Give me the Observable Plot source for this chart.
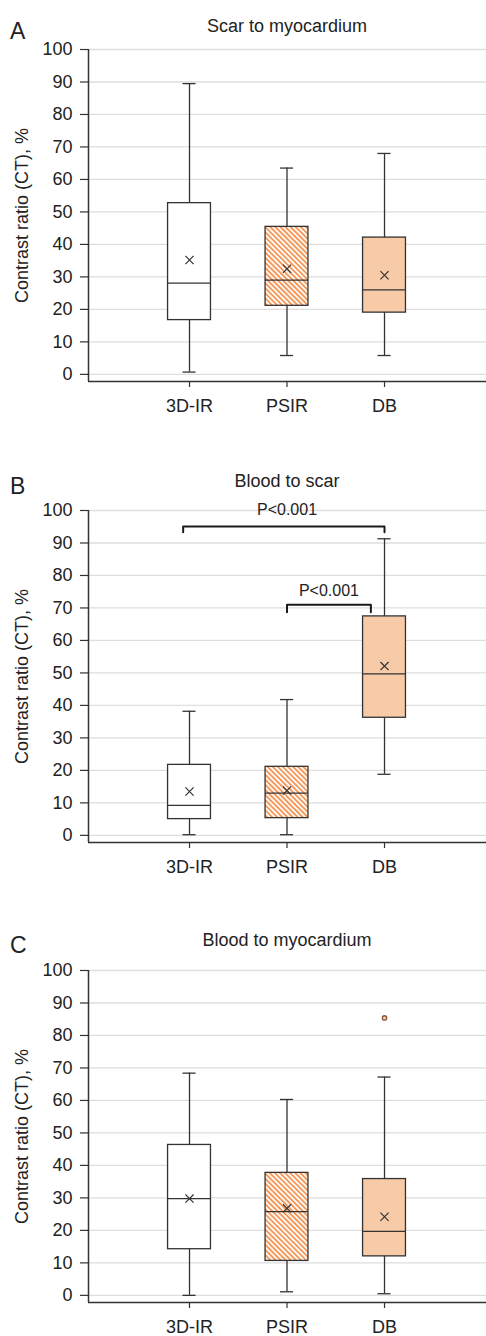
<!DOCTYPE html>
<html><head><meta charset="utf-8">
<script src="https://cdn.jsdelivr.net/npm/d3@7"></script>
<script src="https://cdn.jsdelivr.net/npm/@observablehq/plot@0.6"></script>
<style>
body{margin:0;background:#fff;font-family:"Liberation Sans",Arial,sans-serif;}
#root{position:relative;width:486px;height:1336px;overflow:hidden;}
.letter{position:absolute;left:10px;font-size:23px;line-height:1;color:#222;}
.title{position:absolute;left:88px;width:398px;text-align:center;font-size:18px;line-height:1;color:#222;white-space:nowrap;}
svg.plotsvg{position:absolute;left:0;}
svg.plotsvg g[aria-label$="tick label"]{font-size:18px;}
</style></head><body>
<svg width="0" height="0" style="position:absolute"><defs>
<pattern id="hatch" width="3.6" height="3.6" patternUnits="userSpaceOnUse" patternTransform="rotate(-45)">
<rect width="3.6" height="3.6" fill="#fff"/>
<line x1="1.8" y1="0" x2="1.8" y2="3.6" stroke="#f4985a" stroke-width="1.9"/>
</pattern></defs></svg>
<div id="root"></div>
<script>
// ---- data ----
const methods = ["3D-IR", "PSIR", "DB"];
const positions = [1, 2, 3];
const fills = ["#ffffff", "url(#hatch)", "#f8cba8"];
const yTicks = [0, 10, 20, 30, 40, 50, 60, 70, 80, 90, 100];
const yLabel = "Contrast ratio (CT), %";
const letters = ["A", "B", "C"];
const titles = ["Scar to myocardium", "Blood to scar", "Blood to myocardium"];

// Panel A: scar to myocardium
const aLow  = [0.7, 5.8, 5.8];
const aQ1   = [16.7, 21.1, 19.0];
const aMed  = [28.1, 29.0, 26.0];
const aQ3   = [52.7, 45.4, 42.1];
const aHigh = [89.5, 63.5, 68.0];
const aMean = [35.2, 32.5, 30.5];

// Panel B: blood to scar
const bLow  = [0.2, 0.2, 18.8];
const bQ1   = [5.0, 5.3, 36.2];
const bMed  = [9.2, 13.0, 49.7];
const bQ3   = [21.7, 21.1, 67.4];
const bHigh = [38.2, 41.8, 91.3];
const bMean = [13.5, 13.8, 52.1];

// Panel C: blood to myocardium
const cLow  = [0.0, 1.1, 0.5];
const cQ1   = [14.2, 10.6, 12.0];
const cMed  = [29.8, 25.8, 19.7];
const cQ3   = [46.3, 37.7, 35.8];
const cHigh = [68.4, 60.3, 67.2];
const cMean = [29.8, 26.8, 24.2];
const cOutlierPos = [3];
const cOutlierVal = [85.4];

// Significance brackets (panel B)
const bracketX1 = [0.935, 2.0];
const bracketX2 = [3.0, 2.86];
const bracketY = [95.1, 71.0];
const bracketDrop = [1.8, 2.3];
const pLabels = ["P<0.001", "P<0.001"];
const pLabelX = [2.0, 2.43];
const pLabelY = [100.3, 75.2];

// ---- layout constants ----
const xDomain = [-0.036, 4.046];
const yDomain = [-2.2, 100];
const boxHalf = 0.22;
const capHalf = 0.067;
const panelTops = [0, 461, 921];
const letterTops = [20, 475, 934];
const titleTops = [17, 472, 931];
const ink = "#333";

function rowsFor(low, q1, med, q3, high, mean) {
  return methods.map((m, i) => ({m, pos: positions[i], low: low[i], q1: q1[i], med: med[i], q3: q3[i], high: high[i], mean: mean[i], fill: fills[i]}));
}

const panels = [
  {rows: rowsFor(aLow, aQ1, aMed, aQ3, aHigh, aMean), outliers: [], brackets: false},
  {rows: rowsFor(bLow, bQ1, bMed, bQ3, bHigh, bMean), outliers: [], brackets: true},
  {rows: rowsFor(cLow, cQ1, cMed, cQ3, cHigh, cMean), outliers: cOutlierPos.map((p, i) => ({pos: p, v: cOutlierVal[i]})), brackets: false}
];

const root = document.getElementById("root");

panels.forEach((p, k) => {
  const rows = p.rows;
  const marks = [
    Plot.gridY(yTicks, {stroke: "#dedede", strokeOpacity: 1, strokeWidth: 1.3}),
    Plot.axisY(yTicks, {tickSize: 8, tickPadding: 8, fontSize: 18, stroke: ink, strokeWidth: 1.2, label: null, fill: "#222"}),
    Plot.axisX(positions, {tickFormat: d => methods[positions.indexOf(d)], tickSize: 6, tickPadding: 12, fontSize: 18, stroke: ink, strokeWidth: 1.2, label: null, fill: "#222"}),
    Plot.ruleX([xDomain[0]], {stroke: ink, strokeWidth: 1.5}),
    Plot.ruleY([yDomain[0]], {stroke: ink, strokeWidth: 1.5}),
    Plot.ruleX(rows, {x: "pos", y1: "low", y2: "q1", stroke: ink, strokeWidth: 1.3}),
    Plot.ruleX(rows, {x: "pos", y1: "q3", y2: "high", stroke: ink, strokeWidth: 1.3}),
    Plot.ruleY(rows, {y: "high", x1: d => d.pos - capHalf, x2: d => d.pos + capHalf, stroke: ink, strokeWidth: 1.3}),
    Plot.ruleY(rows, {y: "low", x1: d => d.pos - capHalf, x2: d => d.pos + capHalf, stroke: ink, strokeWidth: 1.3}),
    Plot.rect(rows, {x1: d => d.pos - boxHalf, x2: d => d.pos + boxHalf, y1: "q1", y2: "q3", fill: "fill", stroke: ink, strokeWidth: 1.3}),
    Plot.ruleY(rows, {y: "med", x1: d => d.pos - boxHalf, x2: d => d.pos + boxHalf, stroke: ink, strokeWidth: 1.3}),
    Plot.dot(rows, {x: "pos", y: "mean", symbol: "times", r: 3.8, stroke: ink, strokeWidth: 1.2}),
    Plot.dot(p.outliers, {x: "pos", y: "v", r: 2.2, stroke: "#8b5a3c", fill: "#f8cba8", strokeWidth: 1.3}),
    Plot.text([yLabel], {frameAnchor: "left", textAnchor: "middle", rotate: -90, dx: -66, fontSize: 18, fill: "#222"})
  ];
  if (p.brackets) {
    const pts = [];
    bracketX1.forEach((x1, i) => {
      const y = bracketY[i], y0 = y - bracketDrop[i], x2 = bracketX2[i];
      pts.push({k: i, x: x1, y: y0}, {k: i, x: x1, y}, {k: i, x: x2, y}, {k: i, x: x2, y: y0});
    });
    marks.push(Plot.line(pts, {x: "x", y: "y", z: "k", stroke: "#1a1a1a", strokeWidth: 2}));
    marks.push(Plot.text(pLabels.map((t, i) => ({t, x: pLabelX[i], y: pLabelY[i]})), {x: "x", y: "y", text: "t", fontSize: 16, fill: "#222"}));
  }
  const svg = Plot.plot({
    width: 486, height: 421,
    marginTop: 49, marginLeft: 88, marginRight: 0, marginBottom: 40,
    x: {domain: xDomain, axis: null},
    y: {domain: yDomain, axis: null},
    color: {type: "identity"},
    style: {fontFamily: '"Liberation Sans", Arial, sans-serif', fontSize: "18px", background: "transparent", overflow: "visible", color: "#222"},
    marks
  });
  svg.classList.add("plotsvg");
  svg.style.top = panelTops[k] + "px";
  root.appendChild(svg);

  const L = document.createElement("div");
  L.className = "letter"; L.textContent = letters[k]; L.style.top = letterTops[k] + "px";
  root.appendChild(L);
  const T = document.createElement("div");
  T.className = "title"; T.textContent = titles[k]; T.style.top = titleTops[k] + "px";
  root.appendChild(T);
});
</script>
</body></html>
